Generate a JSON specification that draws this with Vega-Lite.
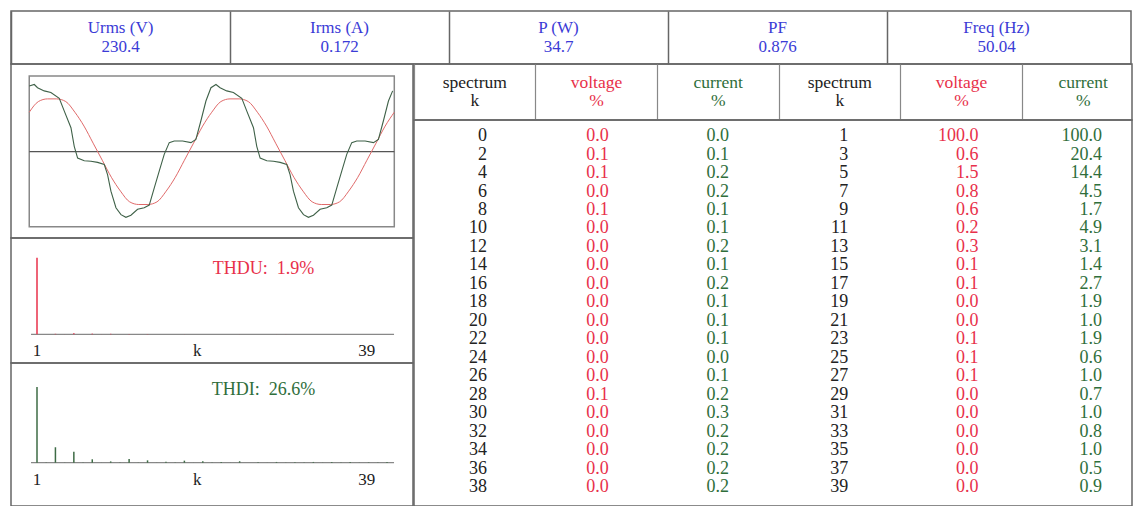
{
  "$schema": "https://vega.github.io/schema/vega-lite/v6.json",
  "padding": {"left": 10, "top": 10, "right": 0, "bottom": 0},
  "background": "white",
  "spacing": 0,
  "bounds": "flush",
  "config": {
    "view": {"stroke": "#666666", "strokeWidth": 1.5},
    "font": "Liberation Serif",
    "text": {"font": "Liberation Serif", "fontSize": 17},
    "concat": {"spacing": 0}
  },
  "datasets": {
    "hdr": [
      {"q": "Urms (V)", "v": "230.4"},
      {"q": "Irms (A)", "v": "0.172"},
      {"q": "P (W)", "v": "34.7"},
      {"q": "PF", "v": "0.876"},
      {"q": "Freq (Hz)", "v": "50.04"}
    ],
    "thdr": [
      {"col": "k_e", "title": "spectrum", "unit": "k", "kind": "spectrum"},
      {"col": "v_e", "title": "voltage", "unit": "%", "kind": "voltage"},
      {"col": "c_e", "title": "current", "unit": "%", "kind": "current"},
      {"col": "k_o", "title": "spectrum", "unit": "k", "kind": "spectrum"},
      {"col": "v_o", "title": "voltage", "unit": "%", "kind": "voltage"},
      {"col": "c_o", "title": "current", "unit": "%", "kind": "current"}
    ],
    "harm": [
      {"k": 0, "voltage": 0.0, "current": 0.0},
      {"k": 1, "voltage": 100.0, "current": 100.0},
      {"k": 2, "voltage": 0.1, "current": 0.1},
      {"k": 3, "voltage": 0.6, "current": 20.4},
      {"k": 4, "voltage": 0.1, "current": 0.2},
      {"k": 5, "voltage": 1.5, "current": 14.4},
      {"k": 6, "voltage": 0.0, "current": 0.2},
      {"k": 7, "voltage": 0.8, "current": 4.5},
      {"k": 8, "voltage": 0.1, "current": 0.1},
      {"k": 9, "voltage": 0.6, "current": 1.7},
      {"k": 10, "voltage": 0.0, "current": 0.1},
      {"k": 11, "voltage": 0.2, "current": 4.9},
      {"k": 12, "voltage": 0.0, "current": 0.2},
      {"k": 13, "voltage": 0.3, "current": 3.1},
      {"k": 14, "voltage": 0.0, "current": 0.1},
      {"k": 15, "voltage": 0.1, "current": 1.4},
      {"k": 16, "voltage": 0.0, "current": 0.2},
      {"k": 17, "voltage": 0.1, "current": 2.7},
      {"k": 18, "voltage": 0.0, "current": 0.1},
      {"k": 19, "voltage": 0.0, "current": 1.9},
      {"k": 20, "voltage": 0.0, "current": 0.1},
      {"k": 21, "voltage": 0.0, "current": 1.0},
      {"k": 22, "voltage": 0.0, "current": 0.1},
      {"k": 23, "voltage": 0.1, "current": 1.9},
      {"k": 24, "voltage": 0.0, "current": 0.0},
      {"k": 25, "voltage": 0.1, "current": 0.6},
      {"k": 26, "voltage": 0.0, "current": 0.1},
      {"k": 27, "voltage": 0.1, "current": 1.0},
      {"k": 28, "voltage": 0.1, "current": 0.2},
      {"k": 29, "voltage": 0.0, "current": 0.7},
      {"k": 30, "voltage": 0.0, "current": 0.3},
      {"k": 31, "voltage": 0.0, "current": 1.0},
      {"k": 32, "voltage": 0.0, "current": 0.2},
      {"k": 33, "voltage": 0.0, "current": 0.8},
      {"k": 34, "voltage": 0.0, "current": 0.2},
      {"k": 35, "voltage": 0.0, "current": 1.0},
      {"k": 36, "voltage": 0.0, "current": 0.2},
      {"k": 37, "voltage": 0.0, "current": 0.5},
      {"k": 38, "voltage": 0.0, "current": 0.2},
      {"k": 39, "voltage": 0.0, "current": 0.9}
    ],
    "volt": [
      {"t": 0, "v": 0.74}, {"t": 1, "v": 0.94}, {"t": 2, "v": 0.99}, {"t": 3, "v": 0.99}, {"t": 4, "v": 0.94},
      {"t": 5, "v": 0.74}, {"t": 6, "v": 0.48}, {"t": 7, "v": 0.16}, {"t": 8, "v": -0.16}, {"t": 9, "v": -0.48},
      {"t": 10, "v": -0.74}, {"t": 11, "v": -0.94}, {"t": 12, "v": -0.99}, {"t": 13, "v": -0.99}, {"t": 14, "v": -0.94},
      {"t": 15, "v": -0.74}, {"t": 16, "v": -0.48}, {"t": 17, "v": -0.16}, {"t": 18, "v": 0.16}, {"t": 19, "v": 0.48},
      {"t": 20, "v": 0.74}, {"t": 21, "v": 0.94}, {"t": 22, "v": 0.99}, {"t": 23, "v": 0.99}, {"t": 24, "v": 0.94},
      {"t": 25, "v": 0.74}, {"t": 26, "v": 0.48}, {"t": 27, "v": 0.16}, {"t": 28, "v": -0.16}, {"t": 29, "v": -0.48},
      {"t": 30, "v": -0.74}, {"t": 31, "v": -0.94}, {"t": 32, "v": -0.99}, {"t": 33, "v": -0.99}, {"t": 34, "v": -0.94},
      {"t": 35, "v": -0.74}, {"t": 36, "v": -0.48}, {"t": 37, "v": -0.16}, {"t": 38, "v": 0.16}, {"t": 39, "v": 0.48},
      {"t": 40, "v": 0.74}
    ],
    "curr": [
      {"t": 0, "v": 1.23}, {"t": 0.55, "v": 1.26}, {"t": 0.91, "v": 1.2}, {"t": 1.64, "v": 1.14}, {"t": 2.37, "v": 1.11},
      {"t": 3.29, "v": 1.0}, {"t": 3.84, "v": 0.76}, {"t": 4.57, "v": 0.45}, {"t": 4.93, "v": 0.1}, {"t": 5.3, "v": -0.12},
      {"t": 6.03, "v": -0.17}, {"t": 6.76, "v": -0.18}, {"t": 7.49, "v": -0.2}, {"t": 8.22, "v": -0.24}, {"t": 8.58, "v": -0.43},
      {"t": 8.95, "v": -0.74}, {"t": 9.5, "v": -1.05}, {"t": 10.05, "v": -1.18}, {"t": 10.59, "v": -1.23}, {"t": 11.14, "v": -1.19},
      {"t": 11.87, "v": -1.08}, {"t": 12.6, "v": -1.05}, {"t": 13.15, "v": -1.0}, {"t": 13.7, "v": -0.68}, {"t": 14.25, "v": -0.36},
      {"t": 14.79, "v": -0.05}, {"t": 15.34, "v": 0.17}, {"t": 15.89, "v": 0.2}, {"t": 16.8, "v": 0.2}, {"t": 17.72, "v": 0.17},
      {"t": 18.26, "v": 0.23}, {"t": 18.81, "v": 0.58}, {"t": 19.36, "v": 0.95}, {"t": 19.91, "v": 1.2},
      {"t": 20.46, "v": 1.26}, {"t": 20.91, "v": 1.2}, {"t": 21.64, "v": 1.14}, {"t": 22.37, "v": 1.11},
      {"t": 23.29, "v": 1.0}, {"t": 23.84, "v": 0.76}, {"t": 24.57, "v": 0.45}, {"t": 24.93, "v": 0.1}, {"t": 25.3, "v": -0.12},
      {"t": 26.03, "v": -0.17}, {"t": 26.76, "v": -0.18}, {"t": 27.49, "v": -0.2}, {"t": 28.22, "v": -0.24}, {"t": 28.58, "v": -0.43},
      {"t": 28.95, "v": -0.74}, {"t": 29.5, "v": -1.05}, {"t": 30.05, "v": -1.18}, {"t": 30.59, "v": -1.23}, {"t": 31.14, "v": -1.19},
      {"t": 31.87, "v": -1.08}, {"t": 32.6, "v": -1.05}, {"t": 33.15, "v": -1.0}, {"t": 33.7, "v": -0.68}, {"t": 34.25, "v": -0.36},
      {"t": 34.79, "v": -0.05}, {"t": 35.34, "v": 0.17}, {"t": 35.89, "v": 0.2}, {"t": 36.8, "v": 0.2}, {"t": 37.72, "v": 0.17},
      {"t": 38.26, "v": 0.23}, {"t": 38.81, "v": 0.58}, {"t": 39.36, "v": 0.95}, {"t": 39.82, "v": 1.14}
    ]
  },
  "vconcat": [
    {
      "width": 1120,
      "height": 53,
      "data": {"name": "hdr"},
      "encoding": {
        "x": {
          "field": "q", "type": "nominal",
          "scale": {"type": "band", "domain": ["Urms (V)", "Irms (A)", "P (W)", "PF", "Freq (Hz)"], "range": [0, 1095], "paddingInner": 0, "paddingOuter": 0},
          "axis": {"grid": true, "bandPosition": 0, "labels": false, "ticks": false, "domain": false, "title": null, "gridColor": "#666666", "gridWidth": 1.5}
        }
      },
      "layer": [
        {"mark": {"type": "text", "dy": -10, "color": "#3b3bd6"}, "encoding": {"text": {"field": "q"}}},
        {"mark": {"type": "text", "dy": 9, "color": "#3b3bd6"}, "encoding": {"text": {"field": "v"}}}
      ]
    },
    {
      "hconcat": [
        {
          "vconcat": [
            {
              "width": 402,
              "height": 174,
              "layer": [
                {
                  "data": {"values": [{}]},
                  "mark": {"type": "rect", "fillOpacity": 0, "stroke": "#888888", "strokeWidth": 1.5},
                  "encoding": {
                    "x": {"datum": 0, "type": "quantitative", "scale": {"domain": [-2.0, 42.05], "nice": false, "zero": false}, "axis": null},
                    "x2": {"datum": 40},
                    "y": {"datum": -1.406, "type": "quantitative", "scale": {"domain": [-1.618, 1.644], "nice": false, "zero": false}, "axis": null},
                    "y2": {"datum": 1.419}
                  }
                },
                {
                  "data": {"values": [{}]},
                  "mark": {"type": "rule", "color": "#555555", "strokeWidth": 1.2},
                  "encoding": {
                    "x": {"datum": 0, "type": "quantitative"},
                    "x2": {"datum": 40},
                    "y": {"datum": 0, "type": "quantitative"}
                  }
                },
                {
                  "data": {"name": "volt"},
                  "mark": {"type": "line", "color": "#e06a6a", "strokeWidth": 1, "interpolate": "monotone"},
                  "encoding": {
                    "x": {"field": "t", "type": "quantitative"},
                    "y": {"field": "v", "type": "quantitative"}
                  }
                },
                {
                  "data": {"name": "curr"},
                  "mark": {"type": "line", "color": "#3f6148", "strokeWidth": 1.1},
                  "encoding": {
                    "x": {"field": "t", "type": "quantitative"},
                    "y": {"field": "v", "type": "quantitative"}
                  }
                }
              ]
            },
            {
              "width": 402,
              "height": 125,
              "layer": [
                {
                  "data": {"values": [{}]},
                  "mark": {"type": "rule", "color": "#888888", "strokeWidth": 1.2},
                  "encoding": {
                    "x": {"datum": 0.35, "type": "quantitative", "scale": {"domain": [-1.823, 41.82], "nice": false, "zero": false}, "axis": null},
                    "x2": {"datum": 39.76},
                    "y": {"datum": 0, "type": "quantitative", "scale": {"domain": [-37.5, 125.7], "nice": false, "zero": false}, "axis": null}
                  }
                },
                {
                  "data": {"name": "harm"},
                  "transform": [{"filter": "datum.k >= 1"}],
                  "mark": {"type": "rule", "color": "#e8304a", "strokeWidth": 1.5},
                  "encoding": {
                    "x": {"field": "k", "type": "quantitative"},
                    "y": {"field": "voltage", "type": "quantitative"},
                    "y2": {"datum": 0}
                  }
                },
                {
                  "data": {"values": [{}]},
                  "mark": {"type": "text", "text": "THDU: \u00a01.9%", "color": "#e8304a", "fontSize": 18},
                  "encoding": {"x": {"datum": 25.6, "type": "quantitative"}, "y": {"datum": 84.9, "type": "quantitative"}}
                },
                {
                  "data": {"values": [{}]},
                  "mark": {"type": "text", "text": "1", "color": "#222222", "dy": 17},
                  "encoding": {"x": {"datum": 1, "type": "quantitative"}, "y": {"datum": 0, "type": "quantitative"}}
                },
                {
                  "data": {"values": [{}]},
                  "mark": {"type": "text", "text": "k", "color": "#222222", "dy": 17},
                  "encoding": {"x": {"datum": 18.4, "type": "quantitative"}, "y": {"datum": 0, "type": "quantitative"}}
                },
                {
                  "data": {"values": [{}]},
                  "mark": {"type": "text", "text": "39", "color": "#222222", "dy": 17},
                  "encoding": {"x": {"datum": 36.8, "type": "quantitative"}, "y": {"datum": 0, "type": "quantitative"}}
                }
              ]
            },
            {
              "width": 402,
              "height": 143,
              "layer": [
                {
                  "data": {"values": [{}]},
                  "mark": {"type": "rule", "color": "#888888", "strokeWidth": 1.2},
                  "encoding": {
                    "x": {"datum": 0.35, "type": "quantitative", "scale": {"domain": [-1.823, 41.82], "nice": false, "zero": false}, "axis": null},
                    "x2": {"datum": 39.76},
                    "y": {"datum": 0, "type": "quantitative", "scale": {"domain": [-57.2, 131.7], "nice": false, "zero": false}, "axis": null}
                  }
                },
                {
                  "data": {"name": "harm"},
                  "transform": [{"filter": "datum.k >= 1"}],
                  "mark": {"type": "rule", "color": "#3d6b45", "strokeWidth": 1.5},
                  "encoding": {
                    "x": {"field": "k", "type": "quantitative"},
                    "y": {"field": "current", "type": "quantitative"},
                    "y2": {"datum": 0}
                  }
                },
                {
                  "data": {"values": [{}]},
                  "mark": {"type": "text", "text": "THDI: \u00a026.6%", "color": "#2f6e3b", "fontSize": 18},
                  "encoding": {"x": {"datum": 25.6, "type": "quantitative"}, "y": {"datum": 95.6, "type": "quantitative"}}
                },
                {
                  "data": {"values": [{}]},
                  "mark": {"type": "text", "text": "1", "color": "#222222", "dy": 17},
                  "encoding": {"x": {"datum": 1, "type": "quantitative"}, "y": {"datum": 0, "type": "quantitative"}}
                },
                {
                  "data": {"values": [{}]},
                  "mark": {"type": "text", "text": "k", "color": "#222222", "dy": 17},
                  "encoding": {"x": {"datum": 18.4, "type": "quantitative"}, "y": {"datum": 0, "type": "quantitative"}}
                },
                {
                  "data": {"values": [{}]},
                  "mark": {"type": "text", "text": "39", "color": "#222222", "dy": 17},
                  "encoding": {"x": {"datum": 36.8, "type": "quantitative"}, "y": {"datum": 0, "type": "quantitative"}}
                }
              ]
            }
          ],
          "spacing": 0,
          "bounds": "flush"
        },
        {
          "vconcat": [
            {
              "width": 718,
              "height": 56,
              "data": {"name": "thdr"},
              "encoding": {
                "x": {
                  "field": "col", "type": "nominal",
                  "scale": {"type": "band", "domain": ["k_e", "v_e", "c_e", "k_o", "v_o", "c_o"], "range": [0, 730], "paddingInner": 0, "paddingOuter": 0},
                  "axis": {"grid": true, "bandPosition": 0, "labels": false, "ticks": false, "domain": false, "title": null, "gridColor": "#888888", "gridWidth": 1.2}
                },
                "color": {"field": "kind", "type": "nominal", "scale": {"domain": ["spectrum", "voltage", "current"], "range": ["#222222", "#e8304a", "#2f6e3b"]}, "legend": null}
              },
              "layer": [
                {"mark": {"type": "text", "dy": -9, "fontSize": 17.5}, "encoding": {"text": {"field": "title"}}},
                {"mark": {"type": "text", "dy": 9, "fontSize": 17.5}, "encoding": {"text": {"field": "unit"}}}
              ]
            },
            {
              "width": 718,
              "height": 386,
              "data": {"name": "harm"},
              "mark": {"type": "text", "fontSize": 18},
              "layer": [
                {
                  "transform": [{"filter": "datum.k % 2 == 0"}],
                  "mark": {"type": "text", "align": "right", "color": "#222222", "fontSize": 18},
                  "encoding": {
                    "x": {"datum": "k_e", "type": "nominal", "bandPosition": 0.6, "scale": {"type": "band", "domain": ["k_e", "v_e", "c_e", "k_o", "v_o", "c_o"], "range": [0, 730], "paddingInner": 0, "paddingOuter": 0}, "axis": null},
                    "y": {"field": "k", "type": "ordinal", "scale": {"type": "point", "padding": 0.95, "align": 0.46}, "axis": null},
                    "text": {"field": "k", "type": "quantitative", "format": "d"}
                  }
                },
                {
                  "transform": [{"filter": "datum.k % 2 == 0"}],
                  "mark": {"type": "text", "align": "right", "color": "#e8304a", "fontSize": 18},
                  "encoding": {
                    "x": {"datum": "v_e", "type": "nominal", "bandPosition": 0.6},
                    "y": {"field": "k", "type": "ordinal", "scale": {"type": "point", "padding": 0.95, "align": 0.46}, "axis": null},
                    "text": {"field": "voltage", "type": "quantitative", "format": ".1f"}
                  }
                },
                {
                  "transform": [{"filter": "datum.k % 2 == 0"}],
                  "mark": {"type": "text", "align": "right", "color": "#2f6e3b", "fontSize": 18},
                  "encoding": {
                    "x": {"datum": "c_e", "type": "nominal", "bandPosition": 0.59},
                    "y": {"field": "k", "type": "ordinal", "scale": {"type": "point", "padding": 0.95, "align": 0.46}, "axis": null},
                    "text": {"field": "current", "type": "quantitative", "format": ".1f"}
                  }
                },
                {
                  "transform": [{"filter": "datum.k % 2 == 1"}],
                  "mark": {"type": "text", "align": "right", "color": "#222222", "fontSize": 18},
                  "encoding": {
                    "x": {"datum": "k_o", "type": "nominal", "bandPosition": 0.57},
                    "y": {"field": "k", "type": "ordinal", "scale": {"type": "point", "padding": 0.95, "align": 0.46}, "axis": null},
                    "text": {"field": "k", "type": "quantitative", "format": "d"}
                  }
                },
                {
                  "transform": [{"filter": "datum.k % 2 == 1"}],
                  "mark": {"type": "text", "align": "right", "color": "#e8304a", "fontSize": 18},
                  "encoding": {
                    "x": {"datum": "v_o", "type": "nominal", "bandPosition": 0.64},
                    "y": {"field": "k", "type": "ordinal", "scale": {"type": "point", "padding": 0.95, "align": 0.46}, "axis": null},
                    "text": {"field": "voltage", "type": "quantitative", "format": ".1f"}
                  }
                },
                {
                  "transform": [{"filter": "datum.k % 2 == 1"}],
                  "mark": {"type": "text", "align": "right", "color": "#2f6e3b", "fontSize": 18},
                  "encoding": {
                    "x": {"datum": "c_o", "type": "nominal", "bandPosition": 0.655},
                    "y": {"field": "k", "type": "ordinal", "scale": {"type": "point", "padding": 0.95, "align": 0.46}, "axis": null},
                    "text": {"field": "current", "type": "quantitative", "format": ".1f"}
                  }
                }
              ],
              "resolve": {"scale": {"y": "independent"}}
            }
          ],
          "spacing": 0,
          "bounds": "flush"
        }
      ],
      "spacing": -3
    }
  ]
}
